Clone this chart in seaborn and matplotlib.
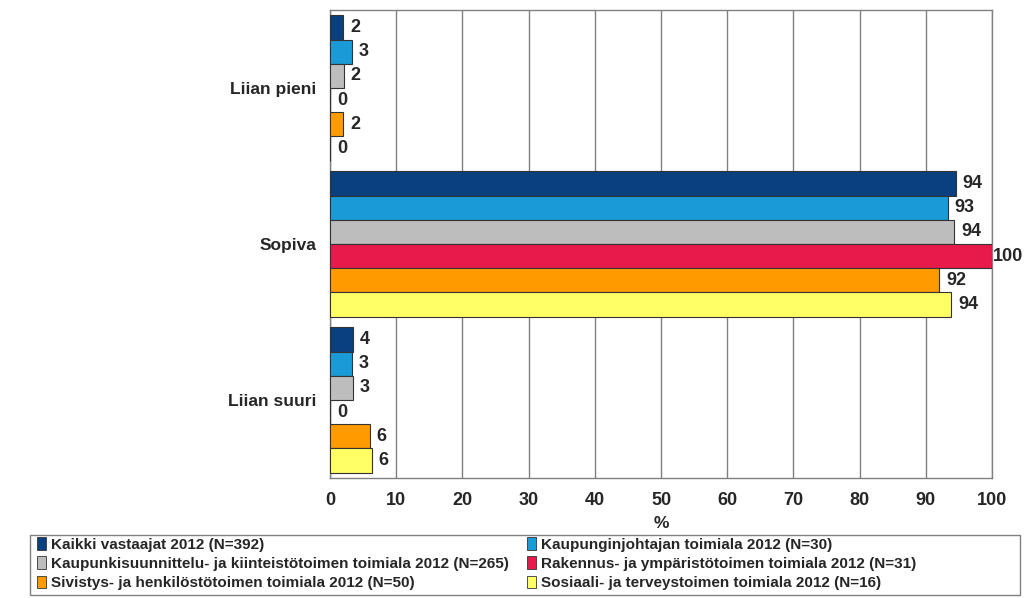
import matplotlib
matplotlib.use("Agg")
import matplotlib.pyplot as plt
import seaborn as sns
import pandas as pd
from matplotlib.patches import Patch, Rectangle

categories = ["Liian pieni", "Sopiva", "Liian suuri"]
series = [
    "Kaikki vastaajat 2012 (N=392)",
    "Kaupunginjohtajan toimiala 2012 (N=30)",
    "Kaupunkisuunnittelu- ja kiinteistötoimen toimiala 2012 (N=265)",
    "Rakennus- ja ympäristötoimen toimiala 2012 (N=31)",
    "Sivistys- ja henkilöstötoimen toimiala 2012 (N=50)",
    "Sosiaali- ja terveystoimen toimiala 2012 (N=16)",
]
values = {
    series[0]: [2.0, 94.5, 3.5],
    series[1]: [3.3, 93.3, 3.3],
    series[2]: [2.1, 94.3, 3.4],
    series[3]: [0.0, 100.0, 0.0],
    series[4]: [2.0, 92.0, 6.0],
    series[5]: [0.0, 93.8, 6.3],
}
colors = ["#0a3f80", "#1a9bd7", "#bdbdbd", "#e8194b", "#ff9a00", "#ffff66"]
xticks = [0, 10, 20, 30, 40, 50, 60, 70, 80, 90, 100]

rows = []
for s in series:
    for c, v in zip(categories, values[s]):
        rows.append({"cat": c, "series": s, "val": v})
df = pd.DataFrame(rows)

sns.set_style("white")
plt.rcParams["font.family"] = ["Liberation Sans", "DejaVu Sans"]

fig = plt.figure(figsize=(10.24, 5.98), dpi=100)
ax = fig.add_axes([330 / 1024, 1 - 478 / 598, 662 / 1024, 468 / 598])

sns.barplot(data=df, y="cat", x="val", hue="series", hue_order=series,
            order=categories, orient="h", palette=colors, saturation=1,
            width=0.93, edgecolor="#333333", linewidth=0.8, legend=False,
            ax=ax, zorder=3)

for cont in ax.containers:
    texts = ax.bar_label(cont, fmt="%.0f", padding=5, fontsize=13,
                         fontweight="bold", clip_on=False)
    for t in texts:
        if t.get_text() == "100":
            t.xyann = (0.5, 0)

ax.set_xlim(0, 100)
ax.set_xticks(xticks)
ax.set_xticklabels([str(t) for t in xticks], fontsize=13, fontweight="bold")
ax.tick_params(axis="x", length=0, pad=10)
ax.tick_params(axis="y", length=0, pad=10)
for lab in ax.get_yticklabels():
    lab.set_fontweight("bold")
    lab.set_fontsize(12.5)
ax.set_ylabel("")
ax.set_xlabel("%", fontsize=12.5, fontweight="bold", labelpad=5)
ax.grid(axis="x", color="#808080", linewidth=1, zorder=0)
ax.set_axisbelow(True)
for sp in ax.spines.values():
    sp.set_color("#808080")
    sp.set_linewidth(1)

# legend frame
fig.patches.append(Rectangle((30 / 1024, 1 - 595 / 598), 990 / 1024,
                             (595 - 535) / 598, transform=fig.transFigure,
                             fill=False, edgecolor="#808080", linewidth=1))

handles = [Patch(facecolor=c, edgecolor="#333333", linewidth=0.6) for c in colors]
col1 = [0, 2, 4]
col2 = [1, 3, 5]
for idxs, x0 in ((col1, 35), (col2, 525)):
    fig.legend([handles[i] for i in idxs], [series[i] for i in idxs],
               ncol=1, loc="upper left",
               bbox_to_anchor=(x0 / 1024, 1 - 535 / 598),
               frameon=False,
               handlelength=0.6, handleheight=0.9, handletextpad=0.3,
               labelspacing=0.3, borderpad=0.15, borderaxespad=0.0,
               prop={"size": 11, "weight": "bold"})

fig.savefig("out.png", dpi=100)
